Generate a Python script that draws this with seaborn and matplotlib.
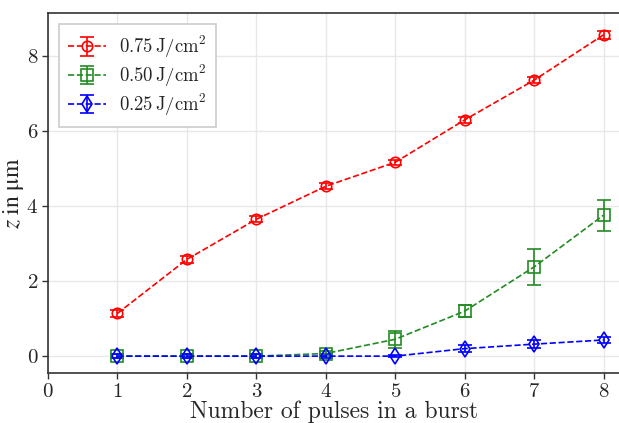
import matplotlib
matplotlib.use("Agg")
import matplotlib.pyplot as plt
import seaborn as sns

pulses = [1, 2, 3, 4, 5, 6, 7, 8]

z_075 = [1.14, 2.58, 3.65, 4.53, 5.17, 6.30, 7.36, 8.57]
err_075 = [0.10, 0.09, 0.08, 0.08, 0.07, 0.08, 0.07, 0.11]

z_050 = [0.0, 0.0, 0.0, 0.07, 0.45, 1.20, 2.38, 3.76]
err_050 = [0.05, 0.05, 0.05, 0.06, 0.22, 0.16, 0.47, 0.41]

z_025 = [0.0, 0.0, 0.0, 0.0, 0.0, 0.20, 0.32, 0.43]
err_025 = [0.05, 0.05, 0.05, 0.05, 0.03, 0.10, 0.10, 0.08]

labels = [r"$0.75\,\mathrm{J/cm^2}$", r"$0.50\,\mathrm{J/cm^2}$", r"$0.25\,\mathrm{J/cm^2}$"]
xticks = [0, 1, 2, 3, 4, 5, 6, 7, 8]
yticks = [0, 2, 4, 6, 8]

sns.set_theme(style="whitegrid")
plt.rcParams["font.family"] = ["cmr10", "DejaVu Serif"]
plt.rcParams["mathtext.fontset"] = "cm"
plt.rcParams["axes.formatter.use_mathtext"] = True

fig = plt.figure(figsize=(6.19, 4.23), dpi=100)
ax = fig.add_axes([48 / 619, 50 / 423, 573 / 619, 360 / 423])

series = [
    (z_075, err_075, "red", "o", 7.5),
    (z_050, err_050, "forestgreen", "s", 8),
    (z_025, err_025, "blue", "d", 8),
]
for (z, e, c, m, ms), lab in zip(series, labels):
    ax.errorbar(pulses, z, yerr=e, color=c, marker=m, markersize=ms,
                markerfacecolor="none", markeredgewidth=1.2, linestyle="--",
                linewidth=1.2, capsize=5, elinewidth=1.2, capthick=1.2, label=lab)

ax.set_xlim(0, 8.25)
ax.set_ylim(-0.45, 9.15)
ax.set_xticks(xticks)
ax.set_yticks(yticks)
ax.grid(color="#e8e8e8", linewidth=1)
for s in ["left", "bottom", "top", "right"]:
    ax.spines[s].set_color("#333333")
    ax.spines[s].set_linewidth(1.2)
ax.tick_params(axis="both", bottom=True, left=True, length=4, width=1,
               color="#333333", labelsize=15, labelcolor="#262626", pad=3)
ax.set_xlabel("Number of pulses in a burst", fontsize=17, color="#262626", labelpad=0)
# upright mu: STIX mathtext keeps \mathrm Greek upright
ax.set_ylabel(r"$z\ \mathrm{in}\ \mathrm{\mu m}$", fontsize=17, color="#262626",
              labelpad=0, math_fontfamily="stix")

leg = ax.legend(loc="upper left", fontsize=13.5, fancybox=False, framealpha=1,
                edgecolor="#cccccc", borderpad=0.5, handlelength=2.0,
                handletextpad=0.7, labelspacing=0.15,
                bbox_to_anchor=(0.003, 0.995))
leg.get_frame().set_linewidth(1.2)

fig.savefig("out.png", dpi=100)
